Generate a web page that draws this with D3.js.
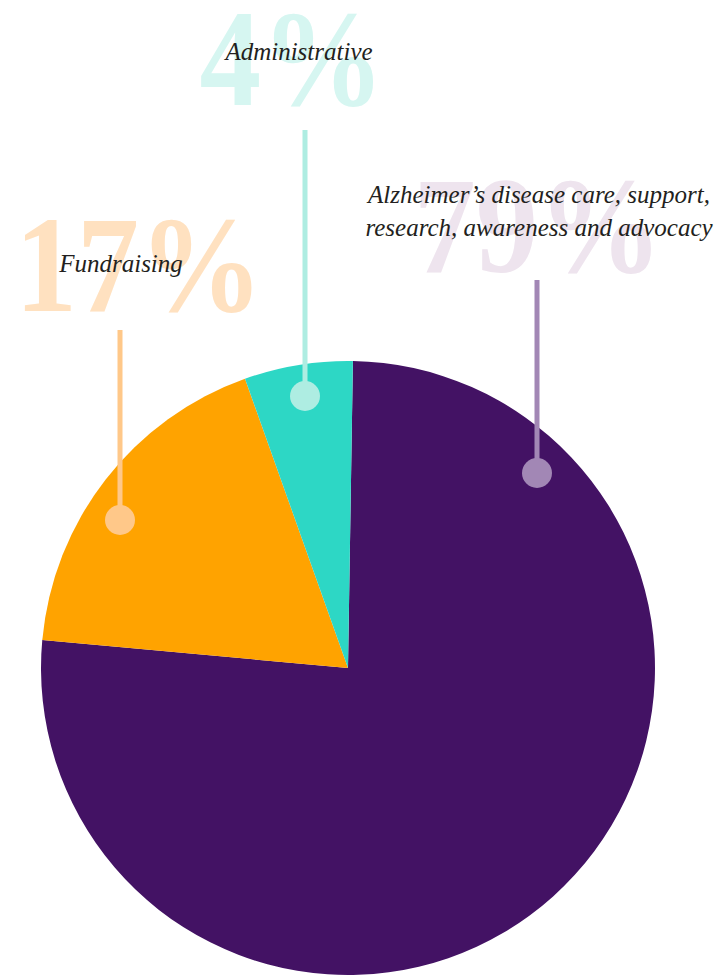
<!DOCTYPE html>
<html>
<head>
<meta charset="utf-8">
<script src="https://cdnjs.cloudflare.com/ajax/libs/d3/7.8.5/d3.min.js"></script>
<style>
  html, body { margin: 0; padding: 0; background: #fff; }
  svg { display: block; }
  .big { font-family: "Liberation Serif", "Times New Roman", Times, serif; font-weight: bold; }
  .label { font-family: "Liberation Serif", "Times New Roman", Times, serif; font-style: italic; fill: #231f20; }
</style>
</head>
<body>
<div id="chart"></div>
<script>
// slice shares as drawn in the picture (clockwise from 12 o'clock)
const categories = ['Alzheimer’s disease care, support, research, awareness and advocacy', 'Fundraising', 'Administrative'];
const labelLines = [['Alzheimer’s disease care, support,', 'research, awareness and advocacy'], ['Fundraising'], ['Administrative']];
const shares = [76.2, 18.1, 5.7];
const pctLabels = ['79%', '17%', '4%'];

const width = 722;
const height = 978;

const colors = ['#431264', '#ffa300', '#2dd7c5'];
const pctColors = ['#eee4ee', '#ffe1c0', '#d6f6f1'];
const leaderColors = ['#a287b5', '#ffc889', '#aeede2'];

// annotation layout (label block, leader line and dot)
const notes = [
    { x: 537, pctX: 538, pctY: 272, pctW: 249, textX: 539, textY: 203, lineTop: 280, dotY: 473 },
    { x: 120, pctX: 139, pctY: 311, pctW: 248, textX: 121, textY: 272, lineTop: 330, dotY: 520 },
    { x: 305, pctX: 292, pctY: 105, pctW: 185, textX: 299, textY: 60, lineTop: 130, dotY: 396 }
];

const svg = d3.select('#chart')
    .append('svg')
    .attr('width', width)
    .attr('height', height);

const cx = 348, cy = 668, radius = 307;

const pie = d3.pie()
    .sort(null)
    .startAngle(0.016)
    .endAngle(0.016 + 2 * Math.PI)
    .value(d => d);

const arc = d3.arc()
    .innerRadius(0)
    .outerRadius(radius);

// big faded percentages behind everything
svg.selectAll('.big')
    .data(pctLabels)
    .enter()
    .append('text')
    .classed('big', true)
    .attr('x', (d, i) => notes[i].pctX)
    .attr('y', (d, i) => notes[i].pctY)
    .attr('text-anchor', 'middle')
    .attr('font-size', 138)
    .attr('textLength', (d, i) => notes[i].pctW)
    .attr('lengthAdjust', 'spacingAndGlyphs')
    .attr('fill', (d, i) => pctColors[i])
    .text(d => d);

const chart = svg.append('g')
    .attr('transform', `translate(${cx},${cy})`);

chart.selectAll('.slice')
    .data(pie(shares))
    .enter()
    .append('path')
    .classed('slice', true)
    .attr('d', arc)
    .attr('fill', (d, i) => colors[i])
    .append('title')
    .text((d, i) => categories[i]);

// leader lines + dots
svg.selectAll('.leader')
    .data(notes)
    .enter()
    .append('line')
    .classed('leader', true)
    .attr('x1', d => d.x)
    .attr('x2', d => d.x)
    .attr('y1', d => d.lineTop)
    .attr('y2', d => d.dotY)
    .attr('stroke', (d, i) => leaderColors[i])
    .attr('stroke-width', 5);

svg.selectAll('.dot')
    .data(notes)
    .enter()
    .append('circle')
    .classed('dot', true)
    .attr('cx', d => d.x)
    .attr('cy', d => d.dotY)
    .attr('r', 15)
    .attr('fill', (d, i) => leaderColors[i]);

// category labels
const labels = svg.selectAll('.label')
    .data(labelLines)
    .enter()
    .append('text')
    .classed('label', true)
    .attr('text-anchor', 'middle')
    .attr('font-size', 25)
    .attr('transform', (d, i) => `translate(${notes[i].textX},${notes[i].textY})`);

labels.selectAll('tspan')
    .data(d => d)
    .enter()
    .append('tspan')
    .attr('x', 0)
    .attr('y', (d, j) => j * 33)
    .text(d => d);
</script>
</body>
</html>
